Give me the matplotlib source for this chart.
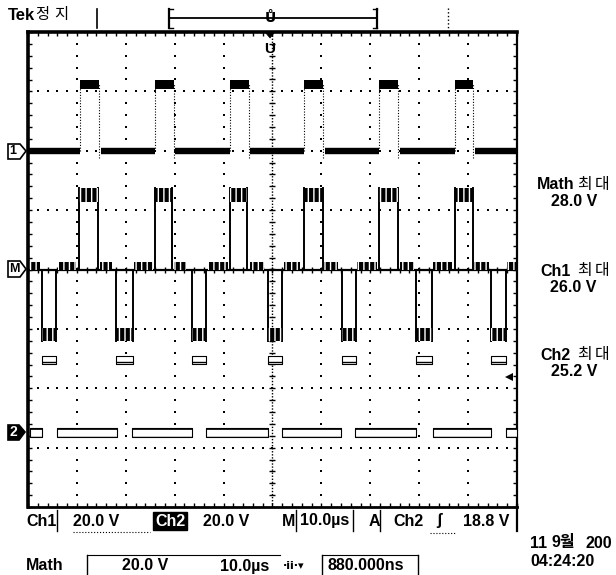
import numpy as np
import matplotlib
matplotlib.use('Agg')
import matplotlib.pyplot as plt
from matplotlib.patches import Polygon
from matplotlib.lines import Line2D
from matplotlib.ticker import MultipleLocator

# ---------------- data (time in µs, 10 µs/div; vertical in divisions, 20 V/div) ----
ch1_ref_div = 2.0
ch1_high_div = 1.12
ch1_rise_us = [10.6, 26.0, 41.3, 56.4, 71.8, 87.3]
ch1_fall_us = [14.6, 29.8, 45.1, 60.4, 75.7, 91.1]

math_pos_rise_us = [10.5, 26.0, 41.3, 56.4, 71.8, 87.3]
math_pos_fall_us = [14.3, 29.5, 44.7, 60.4, 75.6, 91.0]
math_pos_band_div = [1.13, 1.38]
math_neg_fall_us = [2.9, 18.0, 33.6, 49.0, 64.2, 79.3, 94.7]
math_neg_rise_us = [5.7, 21.4, 36.5, 51.9, 67.0, 82.7, 97.7]
math_neg_band_div = [-1.20, -0.99]
math_bump_start_us = [0.4, 6.1, 14.7, 21.7, 29.9, 36.8, 45.4, 52.4, 60.5, 67.3, 76.1, 82.8, 91.2, 97.9]
math_bump_end_us = [2.5, 9.8, 17.2, 25.6, 32.3, 40.9, 48.3, 55.6, 63.4, 71.4, 78.9, 86.7, 94.3, 99.8]
math_bump_div = 0.13

ch2_ref_div = -2.75
ch2_high_div = 1.22
ch2_low_start_us = [0.4, 5.9, 21.3, 36.4, 52.0, 66.9, 82.9, 97.8]
ch2_low_end_us = [2.9, 18.2, 33.5, 49.1, 64.0, 79.3, 94.7, 100.0]
ch2_trig_div = 0.94

bottom_row1 = ["Ch1", "20.0 V", "Ch2", "20.0 V", "M", "10.0µs", "A", "Ch2", "ʃ", "18.8 V"]
bottom_row2 = ["Math", "20.0 V", "10.0µs", "·ii·▾", "880.000ns"]
meas_labels = ["Math", "Ch1", "Ch2"]
meas_values = ["28.0 V", "26.0 V", "25.2 V"]

# ---------------- figure ----------------
W, H = 616, 575
fig = plt.figure(figsize=(W / 100, H / 100), dpi=100)
fig.patch.set_facecolor('white')
LAT = ['Liberation Sans Narrow', 'Liberation Sans', 'DejaVu Sans']
KOR = ['Noto Sans CJK KR', 'DejaVu Sans']

L, R, T_, B = 28, 517, 32, 507
ax = fig.add_axes([L / W, 1 - B / H, (R - L) / W, (B - T_) / H])
ax.set_xlim(0, 100)
ax.set_ylim(-4, 4)
ax.set_facecolor('white')

# graticule dots
yd = np.arange(-3.8, 3.81, 0.2)
for xk in [10, 20, 30, 40, 60, 70, 80, 90]:
    ax.plot(np.full(len(yd), xk), yd, ls='none', marker='s', ms=1.5, mew=0, color='black', zorder=1)
xd = np.arange(2, 99, 2)
for yk in [-3, -2, -1, 1, 2, 3]:
    ax.plot(xd, np.full(len(xd), yk), ls='none', marker='s', ms=1.5, mew=0, color='black', zorder=1)
# center crosshair
ax.plot([50, 50], [-4, 4], color='black', lw=1.0, ls=(0, (1, 1.2)), zorder=1)
ax.plot(np.full(len(yd), 50), yd, ls='none', marker='_', ms=5, mew=1, color='black', zorder=1)
ax.plot(xd, np.zeros(len(xd)), ls='none', marker='|', ms=5, mew=1, color='black', zorder=1)

# spines / ticks
for s, lw in zip(['left', 'top', 'bottom', 'right'], [2.6, 2.6, 2.0, 1.6]):
    ax.spines[s].set_linewidth(lw)
    ax.spines[s].set_color('black')
ax.xaxis.set_major_locator(MultipleLocator(10))
ax.xaxis.set_minor_locator(MultipleLocator(2))
ax.yaxis.set_major_locator(MultipleLocator(1))
ax.yaxis.set_minor_locator(MultipleLocator(0.2))
ax.tick_params(which='both', direction='in', top=True, right=True, bottom=True, left=True,
               labelbottom=False, labelleft=False, length=3, width=1, color='black')

# ---------------- Ch1 ----------------
lo_start = [0.0] + [f + 0.35 for f in ch1_fall_us]
lo_end = ch1_rise_us + [100.0]
for a, b in zip(lo_start, lo_end):
    ax.plot([a, b], [ch1_ref_div, ch1_ref_div], color='black', lw=4.6, solid_capstyle='butt', zorder=3)
top = ch1_ref_div + ch1_high_div
for r, f in zip(ch1_rise_us, ch1_fall_us):
    ax.fill_between([r, f], top - 0.075, top + 0.075, color='black', lw=0, zorder=3)
    ax.plot([r, r], [ch1_ref_div, top], color='black', lw=0.8, ls=(0, (1, 1.5)), zorder=3)
    ax.plot([f, f], [ch1_ref_div - 0.12, top], color='black', lw=0.8, ls=(0, (1, 1.5)), zorder=3)

# ---------------- Math ----------------
ax.plot([0, 100], [0, 0], color='black', lw=1.6, zorder=3)
for a, b in zip(math_bump_start_us, math_bump_end_us):
    ax.fill_between([a, b], 0, math_bump_div, facecolor='black', edgecolor='white',
                    hatch='|||', lw=0, zorder=3)
for r, f in zip(math_pos_rise_us, math_pos_fall_us):
    ax.plot([r, r], [0, math_pos_band_div[1]], color='black', lw=1.4, zorder=3)
    ax.plot([f, f], [0, math_pos_band_div[1]], color='black', lw=1.4, zorder=3)
    ax.fill_between([r, f], math_pos_band_div[0], math_pos_band_div[1], facecolor='black',
                    edgecolor='white', hatch='|||', lw=0, zorder=3)
for f, r in zip(math_neg_fall_us, math_neg_rise_us):
    ax.plot([f, f], [0, math_neg_band_div[0]], color='black', lw=1.4, zorder=3)
    ax.plot([r, r], [0, math_neg_band_div[0]], color='black', lw=1.4, zorder=3)
    ax.fill_between([f, r], math_neg_band_div[0], math_neg_band_div[1], facecolor='black',
                    edgecolor='white', hatch='|||', lw=0, zorder=3)

# ---------------- Ch2 ----------------
for a, b in zip(ch2_low_start_us, ch2_low_end_us):
    ax.fill_between([a, b], ch2_ref_div - 0.075, ch2_ref_div + 0.075, facecolor='white',
                    edgecolor='black', hatch='--', lw=0.8, zorder=3)
hi = ch2_ref_div + ch2_high_div
for f, r in zip(math_neg_fall_us, math_neg_rise_us):
    ax.fill_between([f, r], hi - 0.065, hi + 0.065, facecolor='white',
                    edgecolor='black', hatch='--', lw=0.8, zorder=3)
# trigger level arrow
tl = ch2_ref_div + ch2_trig_div
ax.plot([98.3], [tl], marker='<', ms=6, color='black', mew=0, ls='none', zorder=4)

# ---------------- figure annotations (pixel helpers) ----------------
def T(x, y, s, size=11.5, weight='bold', family=LAT, **kw):
    kw.setdefault('va', 'center')
    kw.setdefault('ha', 'left')
    return fig.text(x / W, 1 - y / H, s, fontsize=size, fontweight=weight, family=family, **kw)

def LN(xs, ys, lw=1.0, ls='-'):
    fig.add_artist(Line2D([x / W for x in xs], [1 - y / H for y in ys], color='black', lw=lw, ls=ls))

def PG(pts, fc='white', lw=1.2):
    fig.add_artist(Polygon([(x / W, 1 - y / H) for x, y in pts], closed=True,
                           facecolor=fc, edgecolor='black', lw=lw))

# top bar
T(8, 15, "Tek", size=12)
T(35, 15, "정", size=11, weight='normal', family=KOR)
T(54, 15, "지", size=11, weight='normal', family=KOR)
LN([97, 97], [9, 28], lw=1.2)
LN([169, 169], [9, 28], lw=1.6); LN([169, 173], [9, 9]); LN([169, 173], [28, 28])
LN([169, 377], [18, 18], lw=1.3)
LN([377, 377], [9, 28], lw=1.6); LN([373, 377], [9, 9]); LN([373, 377], [28, 28])
T(270, 18, "Ů", size=10, ha='center', family=['DejaVu Sans'])
LN([448, 448], [8, 29], lw=1.0, ls=':')
PG([(265, 32), (275, 32), (270, 38)], fc='black', lw=0.5)
T(270, 49, "U", size=11, ha='center')

# channel markers
PG([(8, 144), (20, 144), (26, 151), (20, 159), (8, 159)])
T(13, 151.5, "1", size=9, ha='center')
PG([(8, 261), (20, 261), (26, 269), (20, 277), (8, 277)])
T(14, 269, "M", size=9, ha='center')
PG([(8, 425), (19, 425), (25, 432), (19, 440), (8, 440)], fc='black')
T(13.5, 432.5, "2", size=10, ha='center', color='white')

# bottom row 1
y1 = 521
xs1 = [26, 73, 155, 203, 282, 300, 369, 393, 436, 463]
for i, (x, s) in enumerate(zip(xs1, bottom_row1)):
    if i == 2:
        T(x, y1, s, color='white', bbox=dict(facecolor='black', edgecolor='black', pad=1.2))
    else:
        T(x, y1, s)
LN([57, 57], [510, 531]); LN([296, 296], [510, 531]); LN([353, 353], [510, 531])
LN([380, 380], [510, 531]); LN([517, 517], [505, 531], lw=1.6)
LN([73, 150], [532, 532], lw=0.8, ls=':'); LN([430, 455], [533, 533], lw=0.8, ls=':')

# bottom row 2
y2 = 566
xs2 = [26, 122, 220, 283, 327]
for x, s in zip(xs2, bottom_row2):
    if s.startswith('·'):
        T(x, y2, s, size=8, family=['DejaVu Sans'])
    else:
        T(x, y2, s)
LN([87, 87], [555, 575]); LN([87, 280], [555, 555], lw=0.8)
LN([322, 322], [555, 575]); LN([322, 418], [555, 555], lw=0.8); LN([418, 418], [555, 575])
T(530, 543, "11", size=11.5)
T(552, 543, "9월", size=11.5, family=['Liberation Sans', 'Noto Sans CJK KR'])
T(586, 543, "200", size=11.5)
T(530, 562, "04:24:20")

# measurement readouts on the right
lab_xy = [(537, 185), (540, 271), (540, 355)]
val_xy = [(551, 201), (550, 288), (551, 371)]
for (lx, ly), (vx, vy), lab, val in zip(lab_xy, val_xy, meas_labels, meas_values):
    T(lx, ly, lab)
    T(577, ly, "최", size=11.5, weight='normal', family=KOR)
    T(595, ly, "대", size=11.5, weight='normal', family=KOR)
    T(vx, vy, val)

fig.savefig('out.png', dpi=100, facecolor='white')
